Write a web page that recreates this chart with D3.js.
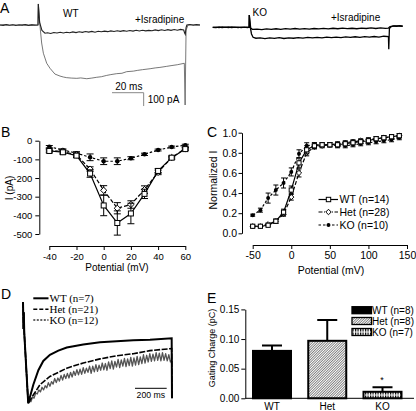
<!DOCTYPE html>
<html><head><meta charset="utf-8">
<script src="https://cdn.jsdelivr.net/npm/d3@7"></script>
<style>
body{margin:0;background:#fff}
svg{display:block;font-family:"Liberation Sans",Arial,sans-serif}
</style></head><body>
<svg id="fig" width="416" height="411"></svg>
<script>
// ================= DATA =================
// Panel A: current traces [time ms, current pA]
const aWTControl = [[0,0],[3,3],[6,-2],[9,2],[12,-3],[15,1],[18,-2],[21,3],[24,0],[24.2,158],[25.3,-13],[26.3,-135],[27.4,-212],[29.5,-287],[31.6,-325],[34.7,-368],[37.9,-383],[40,-390],[42.1,-395],[45,-398],[48.5,-400],[51,-397],[54.8,-403],[58,-398],[61.1,-392],[64,-388],[67.4,-378],[70,-372],[73.7,-365],[77,-362],[80,-350],[84.2,-346],[87,-340],[90,-335],[94.8,-328],[98,-322],[101,-318],[105.3,-310],[108,-305],[112,-298],[116.4,-287],[116.9,-600],[117.5,-38],[118.8,0],[122,2],[126.3,0]];
const aWTIsradipine = [[0,0],[2,-3],[4,3],[6,-2],[8,2],[10,-4],[12,2],[14,-1],[16,3],[18,-3],[20,1],[22,-2],[24,0],[24.2,158],[25,20],[26.5,-40],[28.4,-62],[30,-58],[32,-64],[34,-56],[36,-60],[38,-55],[40,-60],[42,-54],[44,-58],[46,-52],[48,-57],[50,-51],[52,-55],[54,-49],[56,-53],[58,-48],[60,-54],[62,-47],[64,-51],[66,-46],[68,-50],[70,-44],[72,-49],[74,-43],[76,-48],[78,-42],[80,-47],[82,-41],[84,-46],[86,-40],[88,-45],[90,-39],[92,-44],[94,-40],[96,-43],[98,-37],[100,-42],[102,-36],[104,-41],[106,-35],[108,-40],[110,-34],[112,-39],[114,-33],[116,-38],[116.6,-60],[117,-70],[117.5,-20],[118,0],[120,4],[122,-2],[124,3],[126.3,0]];
const aKOControl = [[0,0],[2,2],[4,-2],[6,3],[8,-1],[10,2],[12,-3],[14,1],[16,-2],[18,2],[20,-1],[22,2],[23,0],[23.1,92],[23.6,10],[24.5,-50],[25.5,-75],[27.3,-82],[30,-80],[33,-85],[36,-79],[39,-83],[42,-78],[45,-84],[48,-79],[51,-82],[54,-77],[57,-81],[60,-76],[63,-80],[66,-75],[69,-79],[72,-74],[75,-78],[78,-73],[81,-77],[84,-72],[87,-76],[90,-71],[93,-75],[96,-70],[99,-74],[102,-69],[105,-73],[108,-67],[111,-70],[111.2,-165],[111.6,-10],[112.5,4],[114,10],[116,8],[118,12],[120,8]];
const aKOIsradipine = [[0,0],[2,-2],[4,2],[6,-3],[8,1],[10,-2],[12,3],[14,-1],[16,2],[18,-2],[20,1],[22,-2],[23,0],[23.1,92],[24,-5],[25,-15],[28,-14],[31,-17],[34,-12],[37,-16],[40,-11],[43,-15],[46,-10],[49,-14],[52,-9],[55,-13],[58,-10],[61,-14],[64,-9],[67,-12],[70,-8],[73,-12],[76,-7],[79,-11],[82,-6],[85,-10],[88,-7],[91,-11],[94,-6],[97,-9],[100,-5],[103,-9],[106,-5],[109,-8],[111,-6],[112,5],[115,10],[120,8]];

// Panel B: I-V relationship
const bPotential = [-40,-30,-20,-10,0,10,20,30,40,50,60];
const bWT    = [-55,-62,-80,-176,-347,-441,-390,-285,-162,-91,-45];
const bWTErr = [10,10,10,20,55,65,55,25,12,8,8];
const bHet   = [-52,-58,-76,-152,-266,-362,-342,-262,-170,-90,-42];
const bHetErr= [8,8,10,12,25,30,20,20,12,8,6];
const bKO    = [-32,-50,-67,-89,-110,-110,-94,-73,-50,-34,-24];
const bKOErr = [6,6,8,18,18,18,8,6,5,5,5];
const bYTicks = [0,-100,-200,-300,-400,-500];
const bXTicks = [-40,-20,0,20,40,60];

// Panel C: activation curves
const cPotential = [-50,-40,-30,-20,-10,0,10,20,30,40,50,60,70,80,90,100,110,120,130,140];
const cWT    = [0.07,0.07,0.08,0.12,0.21,0.43,0.70,0.83,0.87,0.88,0.88,0.88,0.89,0.90,0.91,0.92,0.94,0.95,0.96,0.97];
const cWTErr = [0.01,0.01,0.01,0.02,0.03,0.04,0.05,0.04,0.03,0.02,0.02,0.02,0.02,0.02,0.02,0.02,0.02,0.02,0.02,0.02];
const cHet   = [0.07,0.07,0.09,0.12,0.19,0.36,0.60,0.80,0.86,0.87,0.88,0.89,0.90,0.91,0.92,0.93,0.94,0.95,0.96,0.97];
const cHetErr= [0.01,0.01,0.01,0.02,0.02,0.03,0.04,0.03,0.02,0.02,0.02,0.02,0.02,0.02,0.02,0.02,0.02,0.02,0.02,0.02];
const cKO    = [0.18,0.23,0.35,0.43,0.50,0.61,0.79,0.87,0.88,0.88,0.88,0.87,0.87,0.88,0.89,0.90,0.91,0.92,0.93,0.95];
const cKOErr = [0.01,0.02,0.05,0.05,0.05,0.04,0.04,0.03,0.02,0.02,0.02,0.02,0.02,0.02,0.02,0.02,0.02,0.02,0.02,0.02];
const cYTicks = [0,0.2,0.4,0.6,0.8,1.0];
const cXTicks = [-50,0,50,100,150];
const cLegend = ["WT (n=14)","Het (n=28)","KO (n=10)"];

// Panel D: normalized current traces [time ms, normalized current]
const dWT  = [[0,-0.02],[3,-0.28],[5,-0.12],[8,-0.32],[33,-1.0],[65,-0.82],[97,-0.68],[128,-0.59],[170,-0.53],[223,-0.49],[276,-0.46],[380,-0.43],[486,-0.41],[591,-0.40],[696,-0.39],[801,-0.385],[938,-0.37],[940,-0.95]];
const dHet = [[0,-0.02],[3,-0.28],[5,-0.12],[8,-0.32],[33,-1.0],[65,-0.92],[107,-0.82],[170,-0.74],[276,-0.66],[380,-0.61],[486,-0.57],[591,-0.54],[696,-0.52],[801,-0.49],[938,-0.47],[940,-0.95]];
const dKO  = [[0,-0.02],[3,-0.28],[5,-0.12],[8,-0.32],[33,-1.0],[40,-0.98],[50,-0.985],[60,-0.94],[70,-0.95],[80,-0.90],[90,-0.91],[100,-0.87],[110,-0.89],[120,-0.845],[130,-0.87],[140,-0.83],[150,-0.85],[160,-0.80],[170,-0.835],[180,-0.79],[190,-0.815],[200,-0.76],[210,-0.80],[220,-0.755],[230,-0.785],[240,-0.73],[250,-0.775],[260,-0.72],[270,-0.76],[280,-0.71],[290,-0.755],[300,-0.70],[310,-0.745],[320,-0.69],[330,-0.73],[340,-0.675],[350,-0.725],[360,-0.67],[370,-0.72],[380,-0.655],[390,-0.71],[400,-0.66],[410,-0.70],[420,-0.64],[430,-0.71],[440,-0.64],[450,-0.695],[460,-0.625],[470,-0.69],[480,-0.63],[490,-0.68],[500,-0.61],[510,-0.675],[520,-0.615],[530,-0.68],[540,-0.60],[550,-0.665],[560,-0.59],[570,-0.67],[580,-0.595],[590,-0.65],[600,-0.575],[610,-0.655],[620,-0.58],[630,-0.64],[640,-0.565],[650,-0.645],[660,-0.57],[670,-0.635],[680,-0.555],[690,-0.64],[700,-0.56],[710,-0.63],[720,-0.545],[730,-0.625],[740,-0.55],[750,-0.615],[760,-0.53],[770,-0.61],[780,-0.535],[790,-0.60],[800,-0.52],[810,-0.595],[820,-0.525],[830,-0.59],[840,-0.51],[850,-0.585],[860,-0.515],[870,-0.59],[880,-0.51],[890,-0.585],[900,-0.52],[910,-0.59],[920,-0.53],[930,-0.60],[938,-0.58],[940,-0.95]];
const dLegend = ["WT (n=7)","Het (n=21)","KO (n=12)"];

// Panel E: gating charge
const eGroups = ["WT","Het","KO"];
const eValues = [0.080,0.097,0.011];
const eErr    = [0.009,0.035,0.0076];
const eLegend = ["WT (n=8)","Het (n=8)","KO (n=7)"];
const eYTicks = [0,0.05,0.10,0.15];

// ================= DRAW =================
const svg = d3.select("#fig");
const defs = svg.append("defs");
const hatch = defs.append("pattern").attr("id","hatch").attr("width",1.8).attr("height",1.8)
  .attr("patternUnits","userSpaceOnUse").attr("patternTransform","rotate(45)");
hatch.append("rect").attr("width",1.8).attr("height",1.8).attr("fill","#fff");
hatch.append("line").attr("x1",0).attr("y1",0).attr("x2",0).attr("y2",1.8).attr("stroke","#000").attr("stroke-width",0.9);
const brick = defs.append("pattern").attr("id","brick").attr("width",2.5).attr("height",3.5)
  .attr("patternUnits","userSpaceOnUse");
brick.append("rect").attr("width",2.5).attr("height",3.5).attr("fill","#fff");
brick.append("rect").attr("x",0).attr("y",0).attr("width",1.2).attr("height",2.5).attr("fill","#000");

function text(x,y,s,size,anchor,opts){
  const t = svg.append("text").attr("x",x).attr("y",y).attr("font-size",size)
    .attr("text-anchor",anchor||"start").attr("fill","#000").text(s);
  if(opts&&opts.family) t.attr("font-family",opts.family);
  if(opts&&opts.rotate) t.attr("transform",`rotate(-90,${x},${y})`);
  return t;
}
function styleAxis(g,size){
  g.selectAll("path,line").attr("stroke","#000").attr("stroke-width",1);
  g.selectAll("text").attr("font-size",size).attr("font-family",'"Liberation Sans",Arial,sans-serif').attr("fill","#000");
}

// ---------- Panel A ----------
text(0,12.5,"A",14);
const aX = d3.scaleLinear().domain([0,126.3]).range([0,200]);
const aY = d3.scaleLinear().domain([0,-600]).range([25,105]);
const aKX = d3.scaleLinear().domain([0,120]).range([212.7,212.7+190]);
const aKY = d3.scaleLinear().domain([0,-600]).range([27.3,107.3]);
const lineA = d3.line().x(d=>aX(d[0])).y(d=>aY(d[1]));
const lineAK = d3.line().x(d=>aKX(d[0])).y(d=>aKY(d[1]));
svg.append("path").attr("d",lineA(aWTControl)).attr("fill","none").attr("stroke","#555").attr("stroke-width",0.8);
svg.append("path").attr("d",lineA(aWTIsradipine)).attr("fill","none").attr("stroke","#222").attr("stroke-width",1.1);
svg.append("path").attr("d",lineAK(aKOIsradipine)).attr("fill","none").attr("stroke","#000").attr("stroke-width",1.3);
svg.append("path").attr("d",lineAK(aKOControl)).attr("fill","none").attr("stroke","#000").attr("stroke-width",1.3);
text(63,16.5,"WT",10);
text(135,23,"+Isradipine",10);
text(252.5,16,"KO",10);
text(331,21,"+Isradipine",10);
// scale bar
{
  const x0=112, y0=92.7;
  const w = aX(20)-aX(0), h = aY(-100)-aY(0);
  svg.append("path").attr("d",`M${x0},${y0}H${x0+w}V${y0+h}`).attr("fill","none").attr("stroke","#888").attr("stroke-width",1);
  text(x0+w/2+1,89.5,"20 ms",10,"middle");
  text(x0+w+4,103,"100 pA",10);
}

// ---------- Panel B ----------
text(1,137,"B",14);
const bx = d3.scaleLinear().domain([-40,60]).range([49.3,185.3]);
const by = d3.scaleLinear().domain([0,-500]).range([140.7,234]);
styleAxis(svg.append("g").attr("transform","translate(39.3,0)")
  .call(d3.axisLeft(by).tickValues(bYTicks).tickFormat(d=>String(d)).tickSize(4).tickPadding(3).tickSizeOuter(0)),9.5);
styleAxis(svg.append("g").attr("transform","translate(0,246)")
  .call(d3.axisBottom(bx).tickValues(bXTicks).tickFormat(d=>String(d)).tickSize(4).tickPadding(3).tickSizeOuter(0)),9.5);
text(12.5,188,"I (pA)",10,"middle",{rotate:true});
text(117,270.5,"Potential (mV)",10,"middle");

function series(xs,ys,errs,xsc,ysc,dash,marker,cap,msize){
  const g = svg.append("g");
  const pts = xs.map((x,i)=>[x,ys[i],errs[i]]);
  g.append("path").attr("d",d3.line().x(d=>xsc(d[0])).y(d=>ysc(d[1]))(pts))
    .attr("fill","none").attr("stroke","#000").attr("stroke-width",1.2).attr("stroke-dasharray",dash);
  pts.forEach(d=>{
    const cx=xsc(d[0]), y1=ysc(d[1]-d[2]), y2=ysc(d[1]+d[2]);
    g.append("path").attr("d",`M${cx},${y1}V${y2}M${cx-cap/2},${y1}H${cx+cap/2}M${cx-cap/2},${y2}H${cx+cap/2}`)
      .attr("stroke","#000").attr("stroke-width",1).attr("fill","none");
  });
  pts.forEach(d=>drawMarker(g,marker,xsc(d[0]),ysc(d[1]),msize));
  return g;
}
function drawMarker(g,marker,cx,cy,s){
  if(marker==="square"){
    g.append("rect").attr("x",cx-s/2).attr("y",cy-s/2).attr("width",s).attr("height",s)
      .attr("fill","#fff").attr("stroke","#000").attr("stroke-width",1);
  } else if(marker==="diamond"){
    const r=s*0.62;
    g.append("path").attr("d",`M${cx},${cy-r}L${cx+r},${cy}L${cx},${cy+r}L${cx-r},${cy}Z`)
      .attr("fill","#fff").attr("stroke","#000").attr("stroke-width",1);
  } else {
    g.append("circle").attr("cx",cx).attr("cy",cy).attr("r",s*0.45).attr("fill","#000");
  }
}
series(bPotential,bKO,bKOErr,bx,by,"2.5,2","circle",7,5);
series(bPotential,bHet,bHetErr,bx,by,"4,2","diamond",7,5);
series(bPotential,bWT,bWTErr,bx,by,null,"square",7,5);

// ---------- Panel C ----------
text(207,137,"C",14);
const cx = d3.scaleLinear().domain([-50,150]).range([252.7,407]);
const cy = d3.scaleLinear().domain([0,1]).range([233.3,132.7]);
styleAxis(svg.append("g").attr("transform","translate(242,0)")
  .call(d3.axisLeft(cy).tickValues(cYTicks).tickFormat(d3.format(".1f")).tickSize(3.5).tickPadding(1.5).tickSizeOuter(0)),10.5);
styleAxis(svg.append("g").attr("transform","translate(0,245)")
  .call(d3.axisBottom(cx).tickValues(cXTicks).tickFormat(d=>String(d)).tickSize(4).tickPadding(3).tickSizeOuter(0)),10.5);
text(217,180,"Normalized I",10.5,"middle",{rotate:true});
text(331,273.5,"Potential (mV)",10.5,"middle");
series(cPotential,cKO,cKOErr,cx,cy,"2.5,2","circle",5,4.4);
series(cPotential,cHet,cHetErr,cx,cy,"4,2","diamond",5,4.2);
series(cPotential,cWT,cWTErr,cx,cy,null,"square",5,4.2);
// legend
{
  const rows=[199.5,212,225];
  const dashes=[null,"4,1.5,1,1.5","2.5,2"];
  const marks=["square","diamond","circle"];
  rows.forEach((y,i)=>{
    svg.append("line").attr("x1",318.5).attr("x2",338).attr("y1",y).attr("y2",y)
      .attr("stroke","#000").attr("stroke-width",1.2).attr("stroke-dasharray",dashes[i]);
    drawMarker(svg,marks[i],328.5,y,4.4);
    text(339.5,y+3.8,cLegend[i],10.5);
  });
}

// ---------- Panel D ----------
text(1,299,"D",14);
const dx = d3.scaleLinear().domain([0,1000]).range([23,181.5]);
const dy = d3.scaleLinear().domain([-1,0]).range([403.3,300]);
const lineD = d3.line().x(d=>dx(d[0])).y(d=>dy(d[1]));
svg.append("path").attr("d",lineD(dKO)).attr("fill","none").attr("stroke","#555").attr("stroke-width",1.3).attr("stroke-linejoin","round");
svg.append("path").attr("d",lineD(dHet)).attr("fill","none").attr("stroke","#000").attr("stroke-width",1.6).attr("stroke-dasharray","6,1.5");
svg.append("path").attr("d",lineD(dWT)).attr("fill","none").attr("stroke","#000").attr("stroke-width",2);
{
  const rows=[298.3,309.3,320];
  const dashes=[null,"4,2","2,1.5"];
  const widths=[2,1.6,1.4];
  rows.forEach((y,i)=>{
    svg.append("line").attr("x1",33.3).attr("x2",48.5).attr("y1",y).attr("y2",y)
      .attr("stroke",i===2?"#333":"#000").attr("stroke-width",widths[i]).attr("stroke-dasharray",dashes[i]);
    text(49.5,y+3.5,dLegend[i],11,"start",{family:'"Liberation Serif","Times New Roman",serif'});
  });
  const x0=135, w=dx(200)-dx(0);
  svg.append("line").attr("x1",x0).attr("x2",x0+w).attr("y1",388.3).attr("y2",388.3).attr("stroke","#000").attr("stroke-width",1);
  text(x0+w/2,397.5,"200 ms",8.7,"middle");
}

// ---------- Panel E ----------
text(207,302.5,"E",14);
const ex = d3.scalePoint().domain(eGroups).range([272,382.5]);
const ey = d3.scaleLinear().domain([0,0.15]).range([398.3,309.4]);
const barW = 38;
const fills = ["#000","url(#hatch)","url(#brick)"];
styleAxis(svg.append("g").attr("transform","translate(245.3,0)")
  .call(d3.axisLeft(ey).tickValues(eYTicks).tickFormat(d3.format(".2f")).tickSize(4).tickPadding(2).tickSizeOuter(0)),10);
eGroups.forEach((g,i)=>{
  const c=ex(g);
  svg.append("path").attr("d",`M${c},${ey(eValues[i])}V${ey(eValues[i]+eErr[i])}M${c-10},${ey(eValues[i]+eErr[i])}H${c+10}`)
    .attr("stroke","#000").attr("stroke-width",2).attr("fill","none");
  svg.append("rect").attr("x",c-barW/2).attr("y",ey(eValues[i])).attr("width",barW).attr("height",ey(0)-ey(eValues[i]))
    .attr("fill",fills[i]).attr("stroke","#000").attr("stroke-width",2);
  text(c,409.5,g,10,"middle");
});
svg.append("line").attr("x1",245.3).attr("x2",414).attr("y1",398.3).attr("y2",398.3).attr("stroke","#000").attr("stroke-width",1);
text(ex("KO")-0.5,383,"*",9,"middle");
text(215,348,"Gating Charge (pC)",9,"middle",{rotate:true});
{
  const rows=[306.7,317.5,328.5];
  rows.forEach((y,i)=>{
    svg.append("rect").attr("x",352).attr("y",y).attr("width",19.5).attr("height",7)
      .attr("fill",fills[i]).attr("stroke","#000").attr("stroke-width",1.3);
    text(372,y+7.5,eLegend[i],10);
  });
}
</script></body></html>
